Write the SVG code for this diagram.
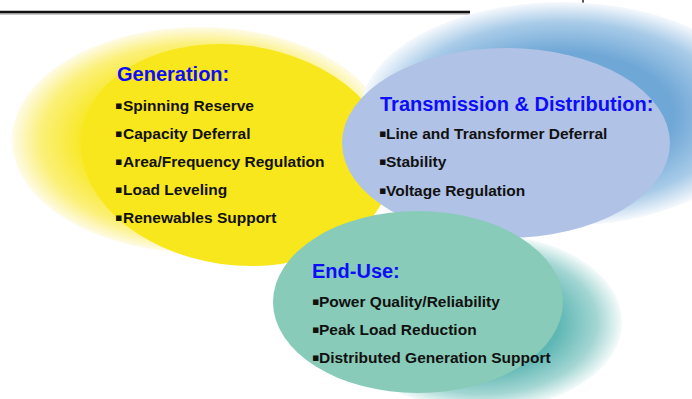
<svg xmlns="http://www.w3.org/2000/svg" width="692" height="399" viewBox="0 0 692 399">
<defs>
<radialGradient id="gYellow" cx="0.5" cy="0.5" r="0.5">
<stop offset="0.6" stop-color="#f8e71c"/>
<stop offset="0.85" stop-color="#fbf07a"/>
<stop offset="1" stop-color="#fefbe8"/>
</radialGradient>
<radialGradient id="gBlue" cx="0.5" cy="0.5" r="0.5">
<stop offset="0.55" stop-color="#6fa7d6"/>
<stop offset="0.82" stop-color="#a8cbe8"/>
<stop offset="1" stop-color="#f6f9fd"/>
</radialGradient>
<radialGradient id="gTeal" cx="0.5" cy="0.5" r="0.5">
<stop offset="0.55" stop-color="#5fb7b4"/>
<stop offset="0.82" stop-color="#a3d6d3"/>
<stop offset="1" stop-color="#f4fbfa"/>
</radialGradient>
<style>
.head{font-family:"Liberation Sans",Arial,sans-serif;font-weight:bold;font-size:20px;fill:#0d0dfa}
.item{font-family:"Liberation Sans",Arial,sans-serif;font-weight:bold;font-size:15.5px;fill:#111111}
.bul{font-family:"DejaVu Sans","Liberation Sans",sans-serif;font-size:11px}
</style>
</defs>
<rect width="692" height="399" fill="#ffffff"/>
<g id="header-rule">
<line x1="0" y1="14" x2="470" y2="14" stroke="#b8b8b8" stroke-width="1.5"/>
<line x1="0" y1="12" x2="470" y2="12" stroke="#111111" stroke-width="2.5"/>
<line x1="583" y1="0" x2="583" y2="12" stroke="#222222" stroke-width="1.5"/>
</g>
<g id="generation">
<ellipse cx="200" cy="140" rx="188" ry="113" fill="url(#gYellow)"/>
<ellipse cx="236" cy="155" rx="156" ry="110" fill="#f8e71c" transform="rotate(8 236 155)"/>
<text class="head" x="117" y="81">Generation:</text>
<text class="item" x="115" y="111"><tspan class="bul" dy="-2">▪</tspan><tspan x="123" dy="2">Spinning Reserve</tspan></text>
<text class="item" x="115" y="139"><tspan class="bul" dy="-2">▪</tspan><tspan x="123" dy="2">Capacity Deferral</tspan></text>
<text class="item" x="115" y="167"><tspan class="bul" dy="-2">▪</tspan><tspan x="123" dy="2">Area/Frequency  Regulation</tspan></text>
<text class="item" x="115" y="195"><tspan class="bul" dy="-2">▪</tspan><tspan x="123" dy="2">Load Leveling</tspan></text>
<text class="item" x="115" y="223"><tspan class="bul" dy="-2">▪</tspan><tspan x="123" dy="2">Renewables Support</tspan></text>
</g>
<g id="transmission-distribution">
<ellipse cx="562" cy="114" rx="202" ry="112" fill="url(#gBlue)"/>
<ellipse cx="506" cy="143" rx="164" ry="95" fill="#b0c2e6"/>
<text class="head" x="380" y="111">Transmission &amp; Distribution:</text>
<text class="item" x="379" y="139"><tspan class="bul" dy="-2">▪</tspan><tspan x="386" dy="2">Line and Transformer Deferral</tspan></text>
<text class="item" x="379" y="167"><tspan class="bul" dy="-2">▪</tspan><tspan x="386" dy="2">Stability</tspan></text>
<text class="item" x="379" y="196"><tspan class="bul" dy="-2">▪</tspan><tspan x="386" dy="2">Voltage Regulation</tspan></text>
</g>
<g id="end-use">
<ellipse cx="482" cy="322" rx="140" ry="88" fill="url(#gTeal)"/>
<ellipse cx="418" cy="302" rx="145" ry="91" fill="#87cbb8"/>
<text class="head" x="312" y="278">End-Use:</text>
<text class="item" x="312" y="307"><tspan class="bul" dy="-2">▪</tspan><tspan x="319" dy="2">Power Quality/Reliability</tspan></text>
<text class="item" x="312" y="335"><tspan class="bul" dy="-2">▪</tspan><tspan x="319" dy="2">Peak Load Reduction</tspan></text>
<text class="item" x="312" y="363"><tspan class="bul" dy="-2">▪</tspan><tspan x="319" dy="2">Distributed Generation Support</tspan></text>
</g>
<g id="connectors"></g>
</svg>
